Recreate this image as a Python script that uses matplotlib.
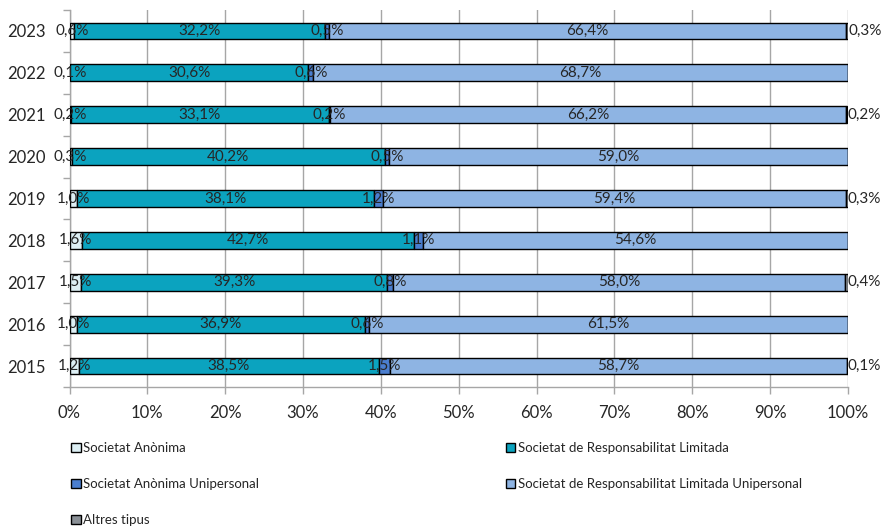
import matplotlib
matplotlib.use("Agg")
import matplotlib.pyplot as plt
import numpy as np
from matplotlib.ticker import FuncFormatter, MultipleLocator

plt.rcParams['font.family'] = ['Lato', 'DejaVu Sans']

years = ["2015", "2016", "2017", "2018", "2019", "2020", "2021", "2022", "2023"]
series_names = [
    "Societat Anònima",
    "Societat de Responsabilitat Limitada",
    "Societat Anònima Unipersonal",
    "Societat de Responsabilitat Limitada Unipersonal",
    "Altres tipus",
]
sa = [1.2, 1.0, 1.5, 1.6, 1.0, 0.3, 0.2, 0.1, 0.6]
srl = [38.5, 36.9, 39.3, 42.7, 38.1, 40.2, 33.1, 30.6, 32.2]
sau = [1.5, 0.6, 0.8, 1.1, 1.2, 0.5, 0.2, 0.6, 0.5]
srlu = [58.7, 61.5, 58.0, 54.6, 59.4, 59.0, 66.2, 68.7, 66.4]
altres = [0.1, 0.0, 0.4, 0.0, 0.3, 0.0, 0.2, 0.0, 0.3]

colors = ["#DDEFF4", "#0BA3BF", "#4A7ECF", "#8EB4E3", "#8A9096"]
series = [sa, srl, sau, srlu, altres]

fig = plt.figure(figsize=(8.9, 5.32), dpi=100)
W, H = 890, 532
left, right, top, bottom = 69.5, 848, 10, 387
ax = fig.add_axes([left / W, 1 - bottom / H, (right - left) / W, (bottom - top) / H])

y = np.arange(len(years))
cum = np.zeros(len(years))
handles = []
for i, (vals, c, name) in enumerate(zip(series, colors, series_names)):
    vals = np.array(vals)
    bars = ax.barh(y, vals, left=cum, height=0.4, color=c, edgecolor="black",
                   linewidth=1.0, label=name, zorder=3)
    handles.append(bars)
    for j, v in enumerate(vals):
        if v <= 0:
            continue
        txt = f"{v:.1f}%".replace(".", ",")
        if i == 4:
            ax.text(cum[j] + v, y[j], txt, ha="left", va="center",
                    fontsize=11, color="#262626", zorder=5)
        else:
            ax.text(cum[j] + v / 2, y[j], txt, ha="center", va="center",
                    fontsize=11, color="#262626", zorder=5)
    cum += vals

ax.set_xlim(0, 100)
ax.set_ylim(-0.5, len(years) - 0.5)
ax.xaxis.set_major_locator(MultipleLocator(10))
ax.xaxis.set_major_formatter(FuncFormatter(lambda v, p: f"{int(round(v))}%"))
ax.set_yticks(y)
ax.set_yticklabels(years)
ax.set_yticks(np.arange(-0.5, len(years)), minor=True)
ax.tick_params(axis="y", which="major", length=0, pad=17, labelsize=12, labelcolor="#262626")
ax.tick_params(axis="y", which="minor", length=5, color="#A6A6A6", width=1)
ax.tick_params(axis="x", which="major", length=5, color="#A6A6A6", width=1, pad=8,
               labelsize=12, labelcolor="#262626")
ax.grid(axis="x", color="#A6A6A6", linewidth=1, zorder=0)
for s in ["top", "right"]:
    ax.spines[s].set_visible(False)
for s in ["left", "bottom"]:
    ax.spines[s].set_color("#A6A6A6")
    ax.spines[s].set_linewidth(1)

order = [0, 2, 4, 1, 3]
leg = fig.legend([handles[k] for k in order], [series_names[k] for k in order],
                 ncol=2, loc="upper left", bbox_to_anchor=(66 / W, 1 - 437 / H),
                 frameon=False, fontsize=9.5, handlelength=0.7, handleheight=0.7,
                 handletextpad=0.2, labelspacing=1.8, columnspacing=18.7,
                 borderaxespad=0)
for t in leg.get_texts():
    t.set_color("#262626")

fig.savefig("out.png", dpi=100)
